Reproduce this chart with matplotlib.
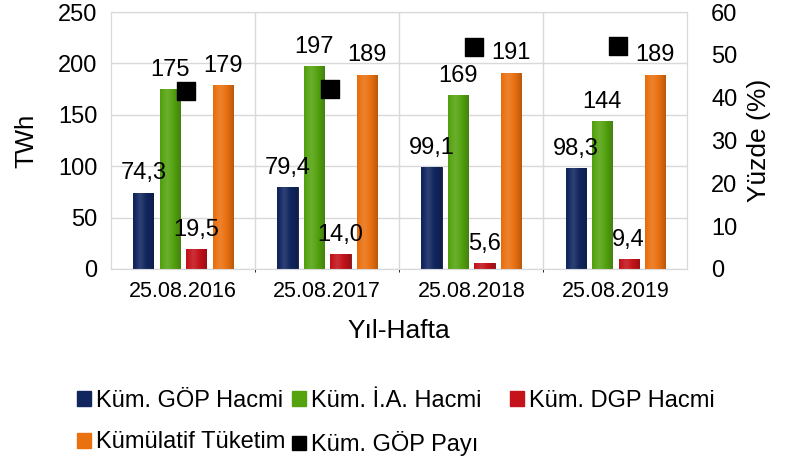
import numpy as np
import matplotlib
matplotlib.use('Agg')
import matplotlib.pyplot as plt
from matplotlib.patches import Rectangle
from matplotlib.lines import Line2D

plt.rcParams['font.family'] = ['Liberation Sans', 'DejaVu Sans']

# data
dates = ['25.08.2016', '25.08.2017', '25.08.2018', '25.08.2019']
gop = [74.3, 79.4, 99.1, 98.3]
ia = [175, 197, 169, 144]
dgp = [19.5, 14.0, 5.6, 9.4]
tuketim = [179, 189, 191, 189]
gop_payi = [41.5, 42.0, 51.9, 52.0]

series = [
    ('Küm. GÖP Hacmi', gop, '#11265f'),
    ('Küm. İ.A. Hacmi', ia, '#55a310'),
    ('Küm. DGP Hacmi', dgp, '#c4131b'),
    ('Kümülatif Tüketim', tuketim, '#ea7110'),
]

fig = plt.figure(figsize=(8.05, 4.62), dpi=100)
ax = fig.add_axes([0.138, 0.418, 0.716, 0.556])
ax2 = ax.twinx()

x = np.arange(len(dates))
w = 0.14
step = 0.184


def shade(c, f):
    c = np.array(matplotlib.colors.to_rgb(c))
    if f > 1:
        return tuple(c + (1 - c) * (f - 1))
    return tuple(c * f)


handles = []
for i, (name, vals, col) in enumerate(series):
    off = (i - 1.5) * step
    bars = ax.bar(x + off, vals, w, color=col, zorder=3, edgecolor=shade(col, 0.6), linewidth=0.6)
    # gradient shading across the bar
    grad = np.linspace(0, 1, 50)
    prof = 1.12 - 0.55 * np.abs(grad - 0.35) ** 1.2
    img = np.array([[shade(col, p) for p in prof]])
    for b in bars:
        im = ax.imshow(img, extent=[b.get_x(), b.get_x() + b.get_width(), 0, b.get_height()],
                       aspect='auto', zorder=3.5)
        im.set_clip_path(b)
    for xi, v in zip(x + off, vals):
        lab = ('%.1f' % v).replace('.', ',') if isinstance(v, float) else str(v)
        ax.text(xi, v + 8, lab, ha='center', va='bottom', fontsize=17, zorder=5)
    handles.append(Rectangle((0, 0), 1, 1, color=col))

ax2.scatter(x + 0.02, gop_payi, marker='s', s=185, color='black', zorder=6)
handles.append(Line2D([], [], marker='s', color='black', linestyle='', markersize=10.5))

ax.set_xlim(-0.5, 3.5)
ax.set_ylim(0, 250)
ax2.set_ylim(0, 60)
ax.set_yticks(range(0, 251, 50))
ax2.set_yticks(range(0, 61, 10))
ax.set_xticks(x)
ax.set_xticklabels(dates)
ax.set_xticks([0.5, 1.5, 2.5], minor=True)
ax.grid(axis='y', color='#d9d9d9', linewidth=1, zorder=0)
ax.grid(axis='x', which='minor', color='#d9d9d9', linewidth=1, zorder=0)
ax.set_axisbelow(True)
for a in (ax, ax2):
    for s in a.spines.values():
        s.set_color('#d9d9d9')
    a.tick_params(length=0, labelsize=17)
ax.tick_params(axis='x', labelsize=15.5, pad=9)
ax.tick_params(axis='y', pad=10)
ax2.tick_params(axis='y', pad=17)
ax.set_ylabel('TWh', fontsize=18.5, labelpad=14)
ax2.set_ylabel('Yüzde (%)', fontsize=19, labelpad=7)
ax.set_xlabel('Yıl-Hafta', fontsize=19, labelpad=12)

names = [s[0] for s in series] + ['Küm. GÖP Payı']
# legend columns placed like the original (three columns, two rows)
columns = [([0, 3], 77), ([1, 4], 292), ([2], 510)]
for idx, xpx in columns:
    fig.legend([handles[k] for k in idx], [names[k] for k in idx],
               loc='upper left', bbox_to_anchor=(xpx / 805, 1 - 390 / 462), frameon=False,
               fontsize=17, handlelength=0.6, handleheight=0.6, handletextpad=0.2,
               labelspacing=0.82, borderaxespad=0, borderpad=0)

plt.savefig('out.png', dpi=100)
